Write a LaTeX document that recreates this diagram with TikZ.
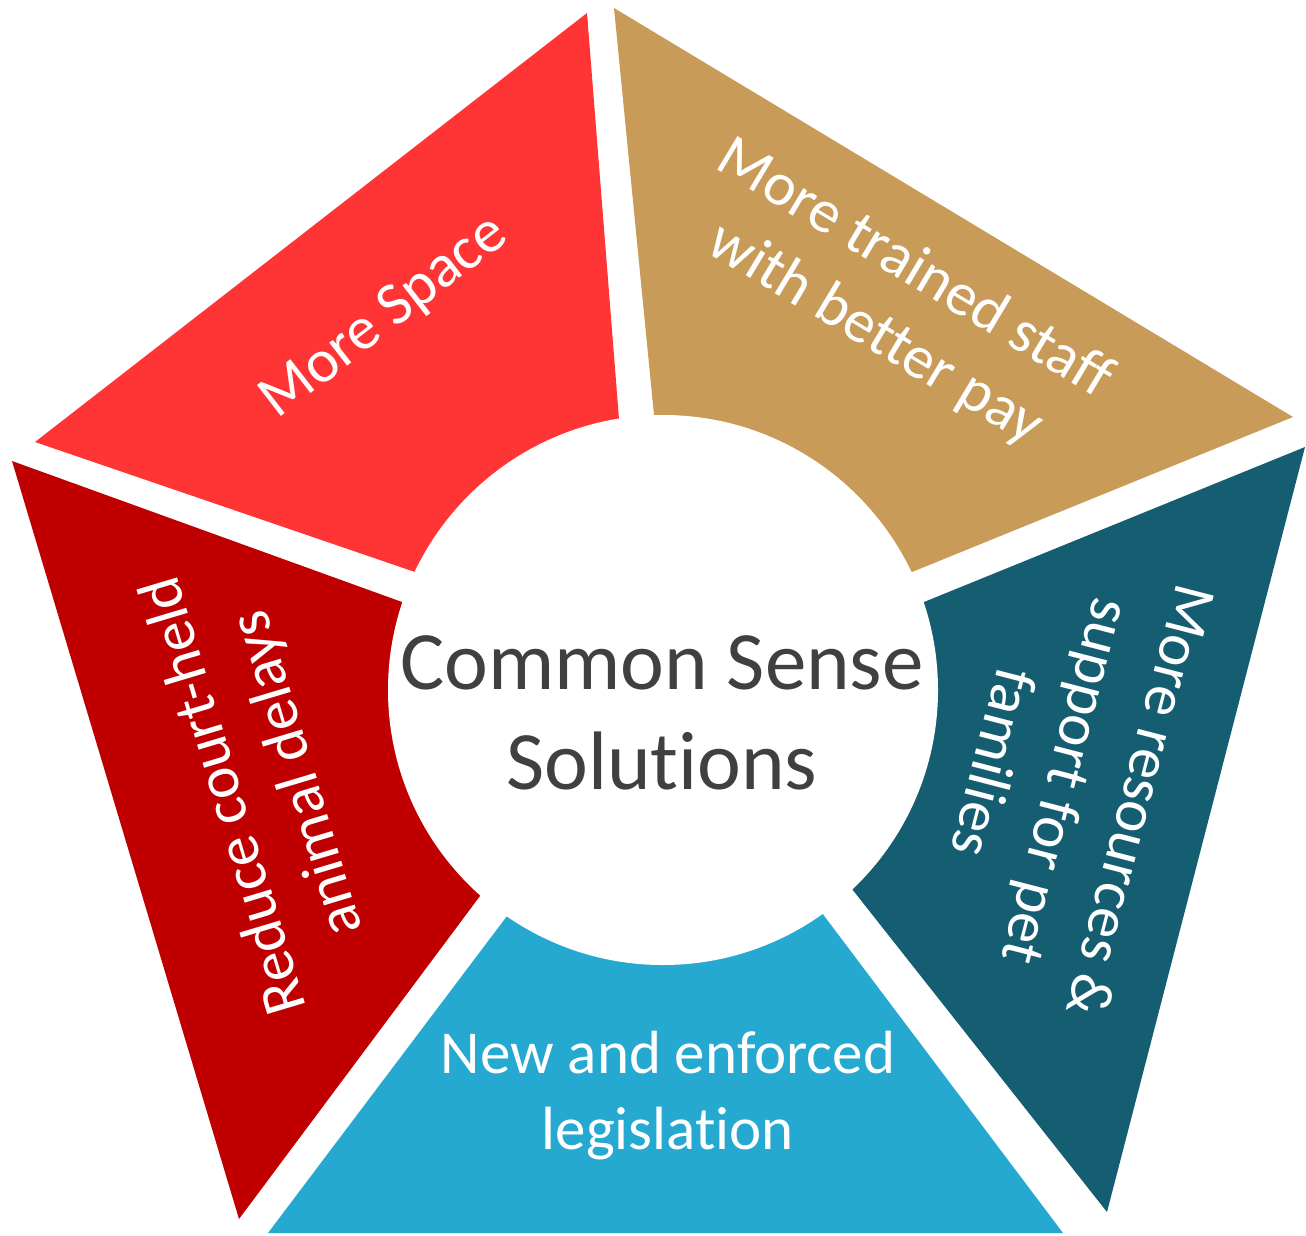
\documentclass[tikz,border=0pt]{standalone}
\usepackage{fontspec}
\setmainfont{Carlito}[Ligatures=NoCommon]
\definecolor{spacered}{HTML}{FF3535}
\definecolor{stafftan}{HTML}{C99B59}
\definecolor{petteal}{HTML}{155E72}
\definecolor{lawcyan}{HTML}{25A9D0}
\definecolor{courtred}{HTML}{C00000}
\definecolor{coregray}{HTML}{404040}

\begin{document}
\begin{tikzpicture}[x=1pt,y=-1pt,
        segtext/.style={text=white,align=center,inner sep=0pt,font=\fontsize{61}{76}\selectfont},
        coretext/.style={text=coregray,align=center,inner sep=0pt,font=\fontsize{83}{100}\selectfont}]
        \useasboundingbox (0,0) rectangle (1306,1235);
        % five segments of the pentagon
        \fill[spacered] (35,442) -- (587,13) -- (619,419) -- (415,572) -- cycle;
        \fill[stafftan] (614,8) -- (1293,417) -- (912,572) -- (654,415) -- cycle;
        \fill[petteal] (1305,447) -- (1107,1212) -- (852,889) -- (924,602) -- cycle;
        \fill[lawcyan] (1063,1233) -- (268,1233) -- (507,916) -- (822,913) -- cycle;
        \fill[courtred] (239,1219) -- (12,461) -- (402,602) -- (480,896) -- cycle;
        % centre
        \fill[white] (663,690) circle[radius=275pt];
        \node[coretext] (core) at (662,713) {Common Sense\\Solutions};
        \node[segtext,rotate=37.8] (space) at (385,318) {More Space};
        \node[segtext,rotate=-31] (staff) at (895,302) {More trained staff\\with better pay};
        \node[segtext,rotate=-104.5] (pets) at (1068,782) {More resources \&\\support for pet\\families};
        \node[segtext] (law) at (668,1096) {New and enforced\\legislation};
        \node[segtext,rotate=106.7] (court) at (262,784) {Reduce court-held\\animal delays};
\end{tikzpicture}
\end{document}
